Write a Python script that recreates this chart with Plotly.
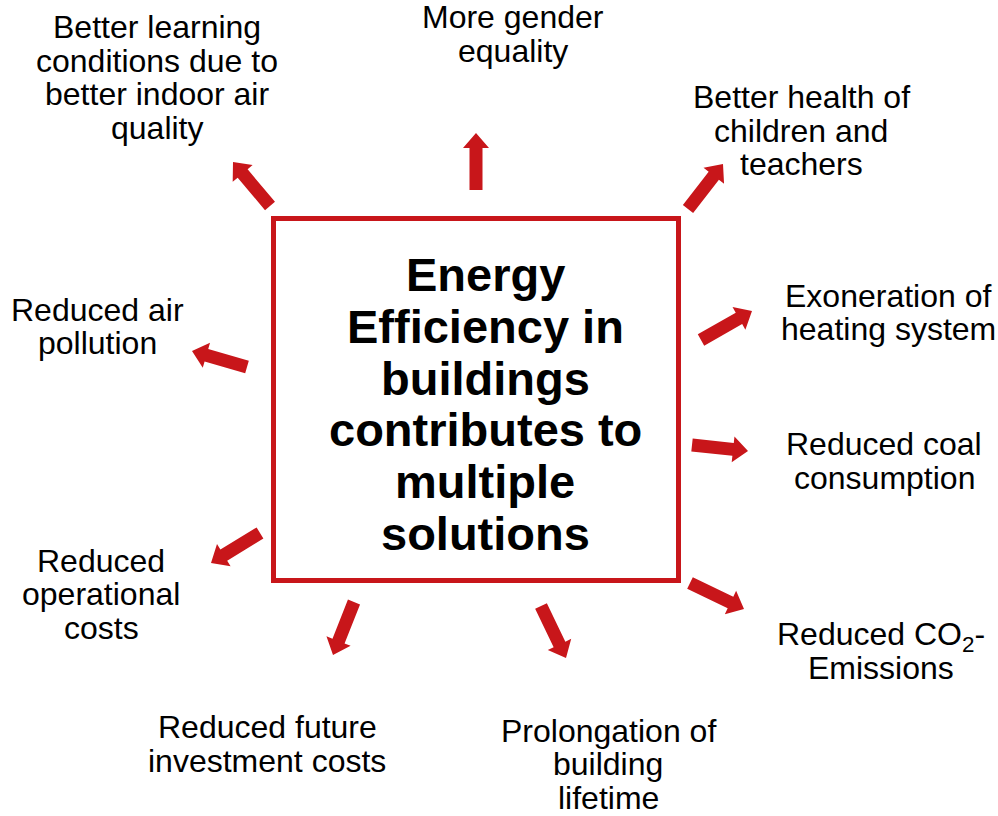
import math
import plotly.graph_objects as go

W, H = 998, 816
RED = "#C8161A"
FONT = "Liberation Sans, Arial, sans-serif"

# Central statement
center_lines = ["Energy", "Efficiency in", "buildings", "contributes to", "multiple", "solutions"]
center_x = 485
center_baseline0 = 290.7
center_step = 51.9
center_size = 47

# Surrounding benefits
label_lines = [
    ["Better learning", "conditions due to", "better indoor air", "quality"],
    ["More gender", "equality"],
    ["Better health of", "children and", "teachers"],
    ["Exoneration of", "heating system"],
    ["Reduced coal", "consumption"],
    ["Reduced CO<sub>2</sub>-", "Emissions"],
    ["Prolongation of", "building", "lifetime"],
    ["Reduced future", "investment costs"],
    ["Reduced", "operational", "costs"],
    ["Reduced air", "pollution"],
]
label_x = [157, 513, 801, 888, 884, 881, 608, 267, 101, 97]
label_baseline0 = [38, 28.5, 108, 306.7, 455, 645, 741.7, 738, 571.7, 320.7]
label_step = 33.8
label_size = 32

# Arrows: tail -> tip
arrow_tail = [(270, 206), (476, 190), (688, 209), (701, 340), (692, 445),
              (690, 583), (541, 606), (354, 602), (260, 533), (247, 367)]
arrow_tip = [(233, 162), (476, 133), (723, 164), (752, 311), (748, 451),
             (744, 609), (566, 658), (333, 655), (211, 563), (192, 351)]
shaft_half = 6.5
head_half = 13
head_len = 15

# Box
box = (273.5, 218.5, 678.5, 580.5)

fig = go.Figure()

for (tx, ty), (px, py) in zip(arrow_tail, arrow_tip):
    dx, dy = px - tx, py - ty
    L = math.hypot(dx, dy)
    ux, uy = dx / L, dy / L
    nx, ny = -uy, ux
    bx, by = px - ux * head_len, py - uy * head_len
    pts = [
        (tx + nx * shaft_half, ty + ny * shaft_half),
        (bx + nx * shaft_half, by + ny * shaft_half),
        (bx + nx * head_half, by + ny * head_half),
        (px, py),
        (bx - nx * head_half, by - ny * head_half),
        (bx - nx * shaft_half, by - ny * shaft_half),
        (tx - nx * shaft_half, ty - ny * shaft_half),
        (tx + nx * shaft_half, ty + ny * shaft_half),
    ]
    fig.add_trace(go.Scatter(
        x=[p[0] for p in pts], y=[p[1] for p in pts],
        mode="lines", fill="toself", fillcolor=RED,
        line=dict(color=RED, width=0), hoverinfo="skip", showlegend=False,
    ))

fig.add_shape(type="rect", x0=box[0], y0=box[1], x1=box[2], y1=box[3],
              line=dict(color=RED, width=5), fillcolor="rgba(0,0,0,0)")

K = 0.35
for i, t in enumerate(center_lines):
    base = center_baseline0 + i * center_step
    fig.add_annotation(x=center_x, y=base - K * center_size, text="<b>%s</b>" % t,
                       showarrow=False, xanchor="center", yanchor="middle",
                       font=dict(family=FONT, size=center_size, color="black"))

for lines, x, b0 in zip(label_lines, label_x, label_baseline0):
    for j, t in enumerate(lines):
        base = b0 + j * label_step
        y = base - K * label_size
        if "<sub>" in t:
            y += 3  # subscript enlarges the text box downward
        fig.add_annotation(x=x, y=y, text=t,
                           showarrow=False, xanchor="center", yanchor="middle",
                           font=dict(family=FONT, size=label_size, color="black"))

fig.update_layout(
    width=W, height=H,
    margin=dict(l=0, r=0, t=0, b=0),
    paper_bgcolor="white", plot_bgcolor="white",
    xaxis=dict(range=[0, W], visible=False, fixedrange=True),
    yaxis=dict(range=[H, 0], visible=False, fixedrange=True),
    showlegend=False,
)

fig.write_html(
    "out.html",
    config={"displayModeBar": False},
    post_script="document.body.style.margin='0';document.body.style.padding='0';"
                "document.body.style.overflow='hidden';",
)
